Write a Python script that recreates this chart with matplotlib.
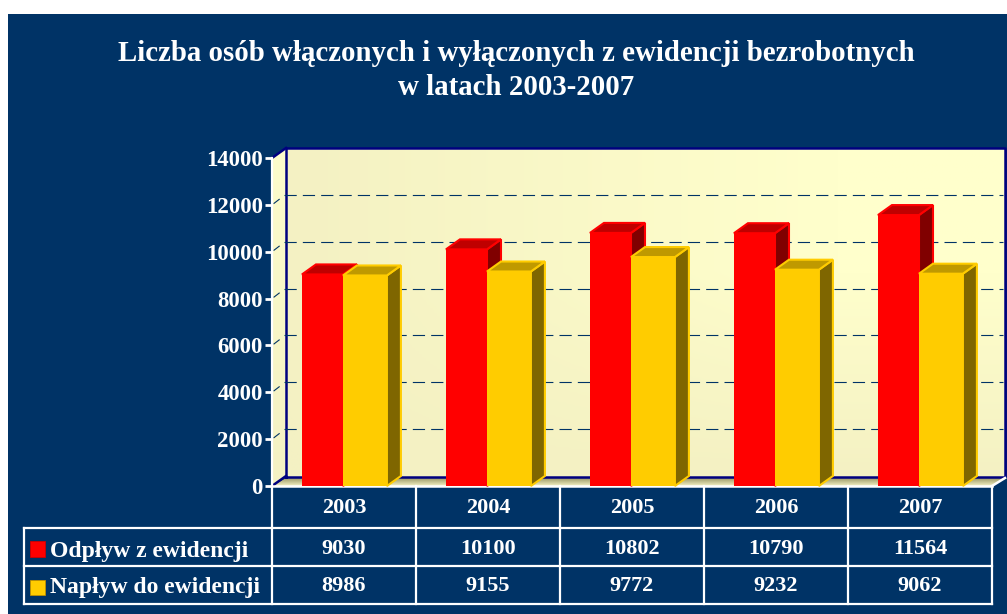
import numpy as np
import matplotlib
matplotlib.use("Agg")
import matplotlib.pyplot as plt
from matplotlib.patches import Polygon, Rectangle
from matplotlib.colors import LinearSegmentedColormap

years = ["2003", "2004", "2005", "2006", "2007"]
outflow_label = "Odpływ z ewidencji"
inflow_label = "Napływ do ewidencji"
outflow = [9030, 10100, 10802, 10790, 11564]
inflow = [8986, 9155, 9772, 9232, 9062]
yticks = [0, 2000, 4000, 6000, 8000, 10000, 12000, 14000]
title = "Liczba osób włączonych i wyłączonych z ewidencji bezrobotnych\nw latach 2003-2007"

NAVY = "#003366"
BORDER = "#000080"
W, H = 1007, 614
plt.rcParams["font.family"] = ["Liberation Serif", "DejaVu Serif"]
plt.rcParams["font.weight"] = "bold"

fig = plt.figure(figsize=(W / 100, H / 100), dpi=100, facecolor="white")

# pixel-space layer for frame, walls and table grid
bg = fig.add_axes([0, 0, 1, 1], zorder=0)
bg.axis("off")
bg.add_patch(Rectangle((8, 14), W - 8, H - 14, fc=NAVY, ec="none"))

L, R, T, B = 272, 992, 158, 486
DX, DY = 14, 10

# back wall gradient: darker to the left and bottom, lighter at top right
wall_cmap = LinearSegmentedColormap.from_list("wall", ["#f4f1c3", "#ffffcc"])
gx, gy = np.meshgrid(np.linspace(0, 1, 200), np.linspace(1, 0, 200))
bg.imshow(np.clip(gx * 1.3, 0, 1) * np.clip(gy * 1.6, 0, 1), cmap=wall_cmap, vmin=0, vmax=1,
          extent=(L + DX, 1005, B - DY + 2, T - DY), aspect="auto", zorder=1)
# left side wall
side_cmap = LinearSegmentedColormap.from_list("side", ["#fdfccb", "#f4f1c3"])
sw = bg.imshow(np.linspace(0, 1, 50)[:, None], cmap=side_cmap, extent=(L, L + DX, B, T - DY),
               aspect="auto", zorder=1)
sw.set_clip_path(Polygon([(L, T), (L + DX, T - DY), (L + DX, B - DY), (L, B)], transform=bg.transData))
# floor
floor_cmap = LinearSegmentedColormap.from_list("floor", ["#9c9a68", "#f4f1c3"])
fl = bg.imshow(np.linspace(0, 1, 20)[:, None], cmap=floor_cmap, extent=(L, 1005, B, B - DY + 2),
               aspect="auto", zorder=1)
fl.set_clip_path(Polygon([(L, B), (L + DX, B - DY + 2), (1005, B - DY + 2), (R, B)], transform=bg.transData))
bg.set_xlim(0, W)
bg.set_ylim(H, 0)
# borders of the walls
bg.plot([L + DX, L + DX, 1005, 1005, L + DX], [B - DY + 1, T - DY, T - DY, B - DY + 1, B - DY + 1],
        color=BORDER, lw=1.8, zorder=2)
bg.plot([L, L + DX], [T, T - DY], color=BORDER, lw=1.8, zorder=2)
bg.plot([L, L + DX], [B, B - DY], color=BORDER, lw=1.8, zorder=2)
bg.plot([R, 1005], [B, B - DY + 2], color="white", lw=1.8, zorder=3)

# main scale (front plane)
ax = fig.add_axes([L / W, 1 - B / H, (R - L) / W, (B - T) / H], zorder=1)
ax.patch.set_alpha(0)
ax.set_xlim(-0.5, 4.5)
ax.set_ylim(0, 14000)
for s in ("top", "right", "bottom"):
    ax.spines[s].set_visible(False)
ax.spines["left"].set_color("white")
ax.spines["left"].set_linewidth(1.6)
ax.set_xticks([])
ax.set_yticks(yticks)
ax.tick_params(axis="y", colors="white", width=2, length=5, pad=1.5, labelsize=16.4)

ddx = DX / ((R - L) / 5)
ddy = DY * 14000 / (B - T)

# gridlines on back wall + short strokes on side wall
for v in yticks[1:-1]:
    ax.plot([-0.5 + ddx - 0.012, 4.5 + 13 / 144 - 0.012], [v + ddy, v + ddy], color=NAVY, lw=0.8,
            dashes=(11, 5.5), clip_on=False, zorder=1)
    ax.plot([-0.5 + 0.014, -0.5 + 0.05], [v + 0.15 * ddy, v + 0.55 * ddy], color=NAVY, lw=0.8,
            clip_on=False, zorder=1)


def bar3d(x0, w, v, front, top, side, edge, z):
    ax.bar(x0, v, w, align="edge", color=front, linewidth=0, zorder=z + 0.2, clip_on=False)
    ax.add_patch(Polygon([(x0 + w, 0), (x0 + w + ddx, ddy), (x0 + w + ddx, v + ddy), (x0 + w, v)],
                         fc=side, ec=edge, lw=1.5, zorder=z, clip_on=False, joinstyle="miter"))
    ax.add_patch(Polygon([(x0, v), (x0 + ddx, v + ddy), (x0 + w + ddx, v + ddy), (x0 + w, v)],
                         fc=top, ec=edge, lw=1.5, zorder=z, clip_on=False, joinstyle="miter"))


for i in range(len(years)):
    bar3d(i - 0.292, 0.285, outflow[i], "#ff0000", "#bf0000", "#800000", "#ff0000", 2 + i)
    bar3d(i - 0.007, 0.305, inflow[i], "#ffcc00", "#bf9900", "#7f6600", "#ffcc00", 2.5 + i)

# data table
rows = [486, 528, 566, 604]
cols = [L + i * (R - L) / 5 for i in range(6)]
for y in rows[1:]:
    bg.plot([24, R], [y, y], color="white", lw=1.6, zorder=4)
bg.plot([L, R], [rows[0], rows[0]], color="white", lw=1.8, zorder=4)
bg.plot([24, 24], [rows[1], rows[3]], color="white", lw=1.6, zorder=4)
for x in cols:
    bg.plot([x, x], [rows[0], rows[3]], color="white", lw=1.6, zorder=4)

txt = dict(color="white", fontsize=16, ha="center", va="center", zorder=5)
for i in range(len(years)):
    cx = (cols[i] + cols[i + 1]) / 2
    bg.text(cx, 508, years[i], **txt)
    bg.text(cx, 548.5, str(outflow[i]), **txt)
    bg.text(cx, 586, str(inflow[i]), **txt)

bg.add_patch(Rectangle((30, 541), 15, 16, fc="#ff0000", ec="#d00000", lw=0.6, zorder=5))
bg.add_patch(Rectangle((30, 580), 15, 15, fc="#ffcc00", ec="#c09000", lw=0.6, zorder=5))
bg.text(50, 551, outflow_label, color="white", fontsize=17, ha="left", va="center", zorder=5)
bg.text(50, 588, inflow_label, color="white", fontsize=17, ha="left", va="center", zorder=5)

bg.text(516, 70.5, title, color="white", fontsize=20.8, ha="center", va="center",
        linespacing=1.37, zorder=5)

fig.savefig("out.png", dpi=100, facecolor="white")
